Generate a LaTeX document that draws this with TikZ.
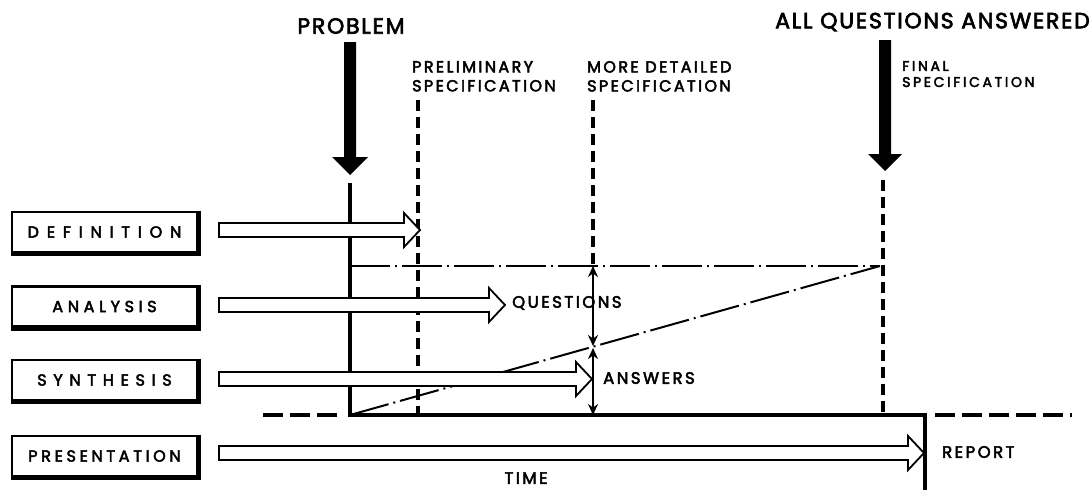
\documentclass[tikz,border=0pt]{standalone}
\usepackage{fontspec}
\setmainfont[FakeBold=3]{Poppins}
\usetikzlibrary{arrows.meta}
\newfontfamily\spacedA[LetterSpace=49,FakeBold=3]{Poppins}
\newfontfamily\spacedB[LetterSpace=29,FakeBold=3]{Poppins}
\newfontfamily\spacedC[LetterSpace=42,FakeBold=3]{Poppins}
\newfontfamily\spacedD[LetterSpace=23,FakeBold=3]{Poppins}
\newfontfamily\titlefont[LetterSpace=8,FakeBold=3]{Poppins}
\newfontfamily\specfont[LetterSpace=15,FakeBold=3]{Poppins}
\newfontfamily\finalfont[LetterSpace=19,FakeBold=3]{Poppins}
\newfontfamily\midfont[LetterSpace=15,FakeBold=3]{Poppins}
\newcommand\hollowarrow[3]{%
  \draw[harrow] (#1,#3-7) -- (#2-16,#3-7) -- (#2-16,#3-17) -- (#2,#3) -- (#2-16,#3+17) -- (#2-16,#3+7) -- (#1,#3+7) -- cycle;}
\begin{document}
\begin{tikzpicture}[x=1pt,y=-1pt,
  stagebox/.style={draw,line width=2.5pt,minimum width=185pt,minimum height=40pt,inner sep=0pt,font=\fontsize{16}{18}\selectfont},
  harrow/.style={draw,line width=1.8pt,line join=miter,fill=white},
  thickline/.style={line width=4.5pt},
  dashedv/.style={line width=4pt,dash pattern=on 11pt off 6pt},
  dashedh/.style={line width=4pt,dash pattern=on 20pt off 7pt},
  dashdot/.style={line width=2pt,dash pattern=on 40pt off 5pt on 2pt off 5pt},
  lbl/.style={inner sep=0pt,font=\titlefont\fontsize{22}{24}\selectfont},
  speclbl/.style={inner sep=0pt,align=left,font=\specfont\fontsize{16}{19}\selectfont},
  smalllbl/.style={inner sep=0pt,align=left,font=\finalfont\fontsize{14}{16}\selectfont},
  midlbl/.style={inner sep=0pt,font=\midfont\fontsize{16.5}{18}\selectfont},
  bigarrow/.style={fill=black,draw=none},
  dbl/.style={line width=2.2pt,{Stealth[length=11pt,width=10pt]}-{Stealth[length=11pt,width=10pt]}}
]
\useasboundingbox (0,0) rectangle (1092,490);

% stage boxes
\node[stagebox] (def) at (104.5,232) {\spacedA DEFINITION};
\node[stagebox] (ana) at (104.5,306.5) {\spacedB ANALYSIS};
\node[stagebox] (syn) at (104.5,380) {\spacedC SYNTHESIS};
\node[stagebox] (pre) at (104.5,456) {\spacedD PRESENTATION};
\foreach \b in {def,ana,syn,pre}{
  \draw[line width=3pt] ([xshift=1.5pt]\b.north east) -- ([xshift=1.5pt,yshift=-1.5pt]\b.south east) -- ([yshift=-1.5pt]\b.south west);
}

% labels
\node[lbl] (problem) at (351,26) {PROBLEM};
\node[lbl,anchor=east] (allq) at (1090,22) {ALL QUESTIONS ANSWERED};
\node[speclbl,anchor=north west] (prelim) at (412,61) {PRELIMINARY\\SPECIFICATION};
\node[speclbl,anchor=north west] (moredet) at (587,61) {MORE DETAILED\\SPECIFICATION};
\node[smalllbl,anchor=north west] (finalspec) at (902,61) {FINAL\\SPECIFICATION};
\node[midlbl,anchor=west] (questions) at (512,303) {QUESTIONS};
\node[midlbl,anchor=west] (answers) at (603,378) {ANSWERS};
\node[midlbl,anchor=west] (report) at (942,452) {REPORT};
\node[midlbl] (time) at (526,478) {TIME};

% coordinates
\coordinate (o) at (350,415);
\coordinate (ptop) at (350,183);
\coordinate (e) at (925,415);
\coordinate (ebot) at (925,490);
\coordinate (f) at (880,266);
\coordinate (h0) at (350,266);
\coordinate (pl0) at (418,100);
\coordinate (pl1) at (418,415);
\coordinate (md0) at (593,100);
\coordinate (md1) at (593,266);
\coordinate (mdm) at (593,347);
\coordinate (md2) at (593,415);
\coordinate (fs0) at (883,180);
\coordinate (fs1) at (883,415);
\coordinate (ld0) at (263,415);
\coordinate (ld1) at (342,415);
\coordinate (rd0) at (935,415);
\coordinate (rd1) at (1072,415);

% big black arrows
\fill[bigarrow] (344,42) -- (356,42) -- (356,157) -- (368,157) -- (350,175) -- (332,157) -- (344,157) -- cycle;
\fill[bigarrow] (879,40) -- (891,40) -- (891,154) -- (902,154) -- (885,171) -- (868,154) -- (879,154) -- cycle;

% dashed verticals
\draw[dashedv] (pl0) -- (pl1);
\draw[dashedv] (md0) -- (md1);
\draw[dashedv] (fs0) -- (fs1);

% dash-dot lines
\draw[dashdot] (h0) -- (f);
\draw[dashdot] (o) -- (f);

% frame
\draw[thickline,line join=miter] (ptop) -- (o) -- (e) -- (ebot);
\draw[dashedh] (ld0) -- (ld1);
\draw[dashedh] (rd0) -- (rd1);

% double arrows
\draw[dbl] (md1) -- ([yshift=1pt]mdm);
\draw[dbl] ([yshift=-1pt]mdm) -- (md2);

% hollow arrows
\hollowarrow{219}{420}{230}
\hollowarrow{219}{505}{305}
\hollowarrow{219}{592}{379}
\hollowarrow{219}{924}{453}
\end{tikzpicture}
\end{document}
